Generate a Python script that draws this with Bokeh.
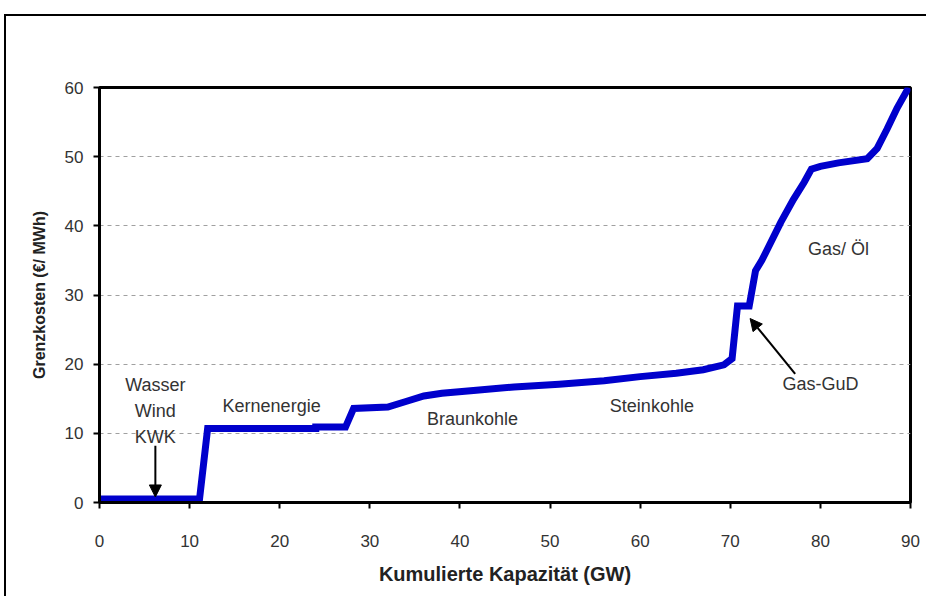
from bokeh.plotting import figure
from bokeh.models import (ColumnDataSource, Arrow, NormalHead,
                          FixedTicker, Range1d)
from bokeh.core.properties import value
from bokeh.embed import file_html
from bokeh.resources import INLINE

# merit-order curve (cumulative capacity GW, marginal cost EUR/MWh)
capacity = [0, 11.1, 12.0, 24.0, 24.0, 27.3, 28.2, 32.0, 34.0, 36.0, 38.0, 41.5,
            46.0, 51.0, 56.0, 60.0, 64.0, 67.0, 69.3, 70.2, 70.8, 72.1, 72.8,
            73.5, 75.6, 77.0, 78.2, 79.0, 80.0, 82.0, 85.2, 86.3, 87.4, 88.5, 89.8]
cost = [0.5, 0.5, 10.7, 10.7, 10.9, 10.9, 13.6, 13.8, 14.6, 15.4, 15.8, 16.2,
        16.7, 17.1, 17.6, 18.2, 18.7, 19.2, 19.9, 20.8, 28.4, 28.4, 33.5,
        35.0, 40.5, 43.8, 46.3, 48.2, 48.6, 49.1, 49.7, 51.2, 54.0, 57.0, 60.0]

# technology labels
label_text = ["Wasser\nWind\nKWK", "Kernenergie", "Braunkohle", "Steinkohle",
              "Gas/ Öl", "Gas-GuD"]
label_x = [6.2, 19.1, 41.4, 61.3, 82.0, 80.0]
label_y = [13.2, 13.9, 12.1, 14.0, 36.7, 17.1]

# arrows: (x_start, y_start) -> (x_end, y_end)
arrow_x0 = [6.2, 77.2]
arrow_y0 = [8.2, 18.6]
arrow_x1 = [6.2, 72.2]
arrow_y1 = [0.8, 26.6]

x_ticks = [0, 10, 20, 30, 40, 50, 60, 70, 80, 90]
y_ticks = [0, 10, 20, 30, 40, 50, 60]

FONT = "Liberation Sans"

p = figure(width=922, height=582, output_backend="svg", toolbar_location=None,
           x_range=Range1d(0, 90), y_range=Range1d(0, 60),
           min_border_left=93, min_border_right=18, min_border_top=71,
           min_border_bottom=96)

# outer page frame (left and top edges visible, the rest runs off the page)
p.styles = {"border-left": "2px solid black", "border-top": "2px solid black",
            "margin-left": "4px", "margin-top": "14px"}

p.outline_line_color = "black"
p.outline_line_width = 3
p.background_fill_color = "white"
p.border_fill_color = "white"

p.xgrid.grid_line_color = None
p.ygrid.grid_line_color = "#a0a0a0"
p.ygrid.grid_line_dash = "4 4"
p.ygrid.grid_line_width = 1

for ax in (p.xaxis[0], p.yaxis[0]):
    ax.axis_line_width = 3
    ax.axis_line_color = "black"
    ax.major_tick_line_width = 2
    ax.major_tick_line_color = "black"
    ax.major_tick_out = 6
    ax.major_tick_in = 0
    ax.minor_tick_line_color = None
    ax.major_label_text_font = FONT
    ax.major_label_text_font_size = "17px"
    ax.major_label_text_color = "#333333"
    ax.axis_label_text_font = FONT
    ax.axis_label_text_font_style = "bold"
    ax.axis_label_text_color = "#222222"

p.xaxis.ticker = FixedTicker(ticks=x_ticks)
p.yaxis.ticker = FixedTicker(ticks=y_ticks)
p.xaxis.axis_label = "Kumulierte Kapazität (GW)"
p.yaxis.axis_label = "Grenzkosten (€/ MWh)"
p.xaxis.axis_label_text_font_size = "20px"
p.yaxis.axis_label_text_font_size = "16px"
p.xaxis.major_label_standoff = 26
p.yaxis.major_label_standoff = 10
p.xaxis.axis_label_standoff = 13
p.yaxis.axis_label_standoff = 14

p.line(capacity, cost, line_color="#0000CC", line_width=7, line_join="miter")

src = ColumnDataSource(dict(x=label_x, y=label_y, t=label_text))
p.text(x="x", y="y", text="t", source=src, text_font=value(FONT),
       text_font_size="18px", text_color="#333333", text_align="center",
       text_baseline="middle", text_line_height=1.3)

for x0, y0, x1, y1 in zip(arrow_x0, arrow_y0, arrow_x1, arrow_y1):
    p.add_layout(Arrow(x_start=x0, y_start=y0, x_end=x1, y_end=y1,
                       line_color="black", line_width=2,
                       end=NormalHead(size=12, fill_color="black",
                                      line_color="black")))

open("out.html", "w").write(file_html(p, INLINE))
